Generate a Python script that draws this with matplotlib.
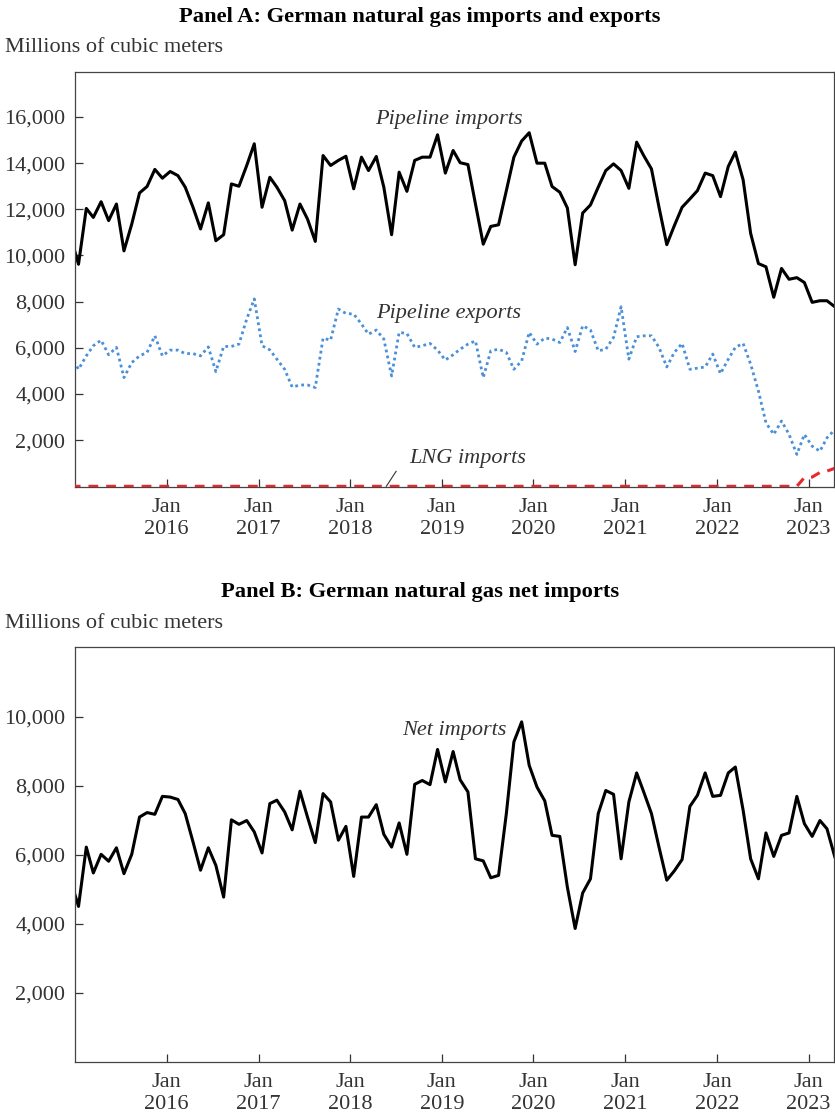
import matplotlib
matplotlib.use('Agg')
import matplotlib.pyplot as plt
import matplotlib.dates as mdates
import matplotlib.ticker as mticker
import pandas as pd

plt.rcParams['font.family'] = ['Liberation Serif', 'DejaVu Serif']

# monthly data, Dec 2014 .. Apr 2023 (plotted mid-month), millions of cubic meters
months = pd.date_range('2014-12-01', '2023-04-01', freq='MS') + pd.Timedelta(days=14)

pipeline_imports = [
    10800,
    9620, 12040, 11650, 12330, 11510, 12230, 10200, 11360, 12710, 12990, 13730, 13350,
    13640, 13460, 12960, 12090, 11150, 12280, 10640, 10900, 13100, 13000, 13900, 14840,
    12090, 13390, 12960, 12380, 11100, 12230, 11580, 10610, 14330, 13900, 14120, 14300,
    12890, 14260, 13680, 14290, 12960, 10900, 13610, 12780, 14120, 14260, 14260, 15230,
    13570, 14550, 14020, 13940, 12230, 10490, 11260, 11330, 12810, 14260, 14960, 15320,
    14000, 14000, 12990, 12740, 12060, 9600, 11840, 12190, 12960, 13680, 13970, 13680,
    12910, 14910, 14330, 13750, 12090, 10470, 11290, 12090, 12450, 12810, 13570, 13460,
    12550, 13860, 14480, 13280, 10960, 9650, 9510, 8190, 9440, 8970, 9040, 8830,
    7970, 8040, 8040, 7780,
]

pipeline_exports = [
    5650,
    5070, 5650, 6090, 6330, 5700, 6020, 4710, 5360, 5650, 5800, 6520, 5650,
    5900, 5900, 5750, 5750, 5650, 6040, 4970, 6060, 6060, 6160, 7250, 8120,
    6090, 5910, 5510, 5070, 4300, 4390, 4390, 4280, 6420, 6330, 7680, 7490,
    7460, 7030, 6590, 6770, 6380, 4780, 6670, 6620, 6020, 6090, 6190, 5900,
    5470, 5700, 5940, 6160, 6300, 4710, 5870, 5940, 5800, 5070, 5430, 6670,
    6160, 6420, 6380, 6230, 6880, 5840, 6960, 6770, 5870, 5940, 6450, 7780,
    5510, 6480, 6520, 6520, 6020, 5170, 5800, 6190, 5070, 5120, 5170, 5730,
    4880, 5510, 6020, 6190, 5290, 4130, 2750, 2250, 2830, 2250, 1380, 2250,
    1740, 1520, 2100, 2450,
]

lng_imports = [0] * 96 + [380, 400, 600, 660, 780]

net_imports = [
    5250,
    4510, 6230, 5480, 6020, 5820, 6210, 5460, 6020, 7100, 7230, 7180, 7700,
    7680, 7610, 7200, 6380, 5560, 6210, 5700, 4780, 7020, 6890, 7000, 6670,
    6060, 7490, 7590, 7250, 6730, 7850, 7100, 6360, 7780, 7540, 6430, 6830,
    5380, 7100, 7100, 7460, 6600, 6230, 6930, 6020, 8050, 8160, 8040, 9060,
    8120, 9000, 8180, 7830, 5890, 5830, 5340, 5410, 7200, 9280, 9860, 8600,
    7970, 7570, 6570, 6540, 5070, 3870, 4900, 5310, 7200, 7870, 7760, 5890,
    7540, 8380, 7830, 7200, 6230, 5270, 5540, 5870, 7410, 7730, 8380, 7700,
    7730, 8380, 8550, 7300, 5890, 5310, 6640, 5960, 6570, 6640, 7700, 6910,
    6540, 7000, 6760, 5950,
]

year_ticks = pd.date_range('2016-01-01', '2023-01-01', freq='YS')
ticks_a = [2000, 4000, 6000, 8000, 10000, 12000, 14000, 16000]
ticks_b = [2000, 4000, 6000, 8000, 10000]

gray = '#333333'
fs = 16

fig = plt.figure(figsize=(8.35, 11.17), dpi=100)
axA = fig.add_axes([75 / 835, 1 - 487 / 1117, 759 / 835, 415 / 1117])
axB = fig.add_axes([75 / 835, 1 - 1062 / 1117, 759 / 835, 415 / 1117])


def style_axis(ax, ticks):
    ax.set_xlim(pd.Timestamp('2015-01-01'), pd.Timestamp('2023-04-12'))
    ax.set_xticks(year_ticks)
    ax.xaxis.set_major_formatter(mdates.DateFormatter('Jan\n%Y'))
    ax.set_yticks(ticks)
    ax.yaxis.set_major_formatter(mticker.StrMethodFormatter('{x:,.0f}'))
    ax.tick_params(direction='in', length=6, width=0.9, colors=gray,
                   labelsize=fs, labelcolor=gray)
    ax.tick_params(axis='x', pad=8)
    ax.tick_params(axis='y', pad=7)
    for lbl in ax.get_xticklabels():
        lbl.set_linespacing(1.2)
    for sp in ax.spines.values():
        sp.set_color('#444444')
        sp.set_linewidth(0.9)


# Panel A
axA.plot(months, pipeline_imports, color='black', lw=2.2)
axA.plot(months, pipeline_exports, color='#4a90d9', lw=2.0, linestyle=(0, (1, 1.2)))
axA.plot(months, lng_imports, color='#e8282b', lw=2.2, linestyle=(0, (3.2, 2.6)), zorder=5)
axA.set_ylim(-30, 17950)
style_axis(axA, ticks_a)

axA.text(pd.Timestamp('2019-01-28'), 15900, 'Pipeline imports', style='italic',
         ha='center', va='center', fontsize=fs, color=gray)
axA.text(pd.Timestamp('2019-01-28'), 7480, 'Pipeline exports', style='italic',
         ha='center', va='center', fontsize=fs, color=gray)
axA.text(pd.Timestamp('2019-04-15'), 1220, 'LNG imports', style='italic',
         ha='center', va='center', fontsize=fs, color=gray)
axA.plot([pd.Timestamp('2018-07-03'), pd.Timestamp('2018-05-25')], [650, 0],
         color=gray, lw=0.8)

fig.text(0.503, 1 - 17 / 1117, 'Panel A: German natural gas imports and exports',
         ha='center', va='center', fontsize=16.2, fontweight='bold')
fig.text(5 / 835, 1 - 48 / 1117, 'Millions of cubic meters',
         ha='left', va='center', fontsize=fs, color=gray)

# Panel B
axB.plot(months, net_imports, color='black', lw=2.2)
axB.set_ylim(0, 12030)
style_axis(axB, ticks_b)
axB.text(pd.Timestamp('2019-02-18'), 9600, 'Net imports', style='italic',
         ha='center', va='center', fontsize=fs, color=gray)

fig.text(0.503, 1 - 592 / 1117, 'Panel B: German natural gas net imports',
         ha='center', va='center', fontsize=16.2, fontweight='bold')
fig.text(5 / 835, 1 - 624 / 1117, 'Millions of cubic meters',
         ha='left', va='center', fontsize=fs, color=gray)

fig.savefig('out.png', dpi=100)
